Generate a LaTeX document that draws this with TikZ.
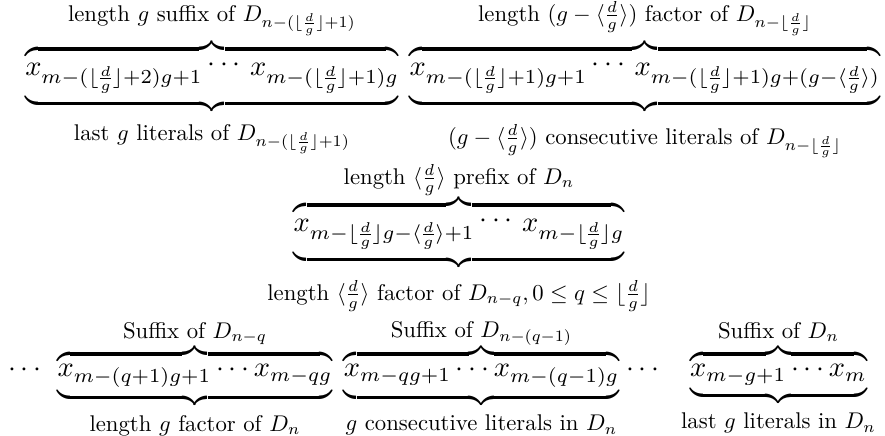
\documentclass[tikz,border=0pt]{standalone}
\usepackage{amsmath}
\usepackage{graphicx}
\newcommand\dgfl{\lfloor\frac{d}{g}\rfloor}
\newcommand\dgan{\langle\frac{d}{g}\rangle}
% label above a brace; optional amount lowers it
\newcommand\lbl[2][0pt]{\mbox{\nulldelimiterspace=1.2pt\scalebox{0.8}{\raisebox{0pt}[\height][\dimexpr\depth-#1\relax]{#2}}}}
% label below a brace; optional amount lowers it
\newcommand\lbu[2][2.5pt]{\mbox{\nulldelimiterspace=1.2pt\scalebox{0.8}{\raisebox{0pt}[\dimexpr\height+#1\relax]{#2}}}}
\newcommand\updots{\,\raisebox{1.5pt}{$\cdots$}\,}
\begin{document}
\begin{tikzpicture}[x=0.3519pt,y=-0.3519pt,
  grp/.style={inner sep=0pt, outer sep=0pt, anchor=base}]
\useasboundingbox (0,0) rectangle (885,436);
% row 1
\node[grp] (a) at (212,76) {\nulldelimiterspace=0.6pt$\underbrace{\overbrace{x_{m-(\dgfl+2)g+1}\updots x_{m-(\dgfl+1)g}}^{\lbl{length $g$ suffix of $D_{n-(\dgfl+1)}$}}}_{\lbu{last $g$ literals of $D_{n-(\dgfl+1)}$}}$};
\node[grp] (b) at (645,76) {\nulldelimiterspace=0.6pt$\underbrace{\overbrace{x_{m-(\dgfl+1)g+1}\updots x_{m-(\dgfl+1)g+(g-\dgan)}}^{\lbl{length $(g-\dgan)$ factor of $D_{n-\dgfl}$}}}_{\lbu{$(g-\dgan)$ consecutive literals of $D_{n-\dgfl}$}}$};
% row 2
\node[grp] (c) at (459,232) {\nulldelimiterspace=0.6pt$\underbrace{\overbrace{x_{m-\dgfl g-\dgan+1}\updots x_{m-\dgfl g}}^{\lbl[1.6pt]{length $\dgan$ prefix of $D_n$}}}_{\lbu{length $\dgan$ factor of $D_{n-q}, 0\le q\le\dgfl$}}$};
% row 3
\node[grp] (d0) at (27,377) {$\cdots$};
\node[grp] (d) at (195,377) {$\underbrace{\overbrace{x_{m-(q+1)g+1}\cdots x_{m-qg}}^{\lbl[2pt]{Suffix of $D_{n-q}$}}}_{\lbu[1.2pt]{length $g$ factor of $D_n$}}$};
\node[grp] (e) at (481.5,377) {$\underbrace{\overbrace{x_{m-qg+1}\cdots x_{m-(q-1)g}}^{\lbl[2pt]{Suffix of $D_{n-(q-1)}$}}}_{\lbu[1.2pt]{$g$ consecutive literals in $D_n$}}$};
\node[grp] (d1) at (645,377) {$\cdots$};
\node[grp] (f) at (778.5,377) {$\underbrace{\overbrace{x_{m-g+1}\cdots x_m}^{\lbl[2pt]{Suffix of $D_n$}}}_{\lbu[1.2pt]{last $g$ literals in $D_n$}}$};
\end{tikzpicture}
\end{document}
